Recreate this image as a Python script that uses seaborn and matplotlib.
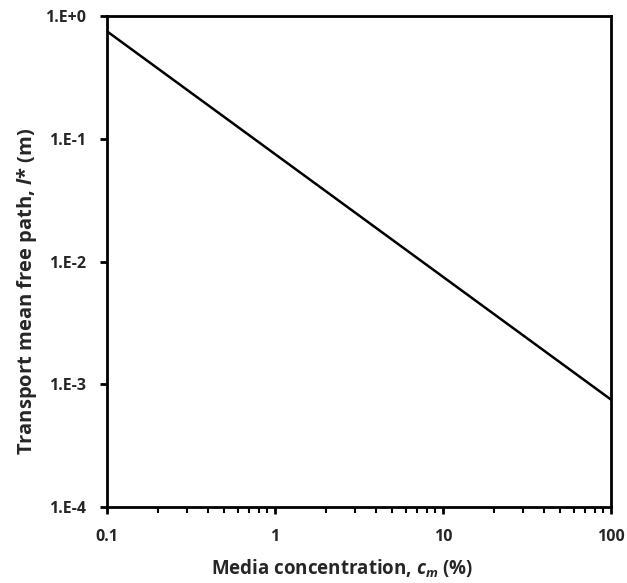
import matplotlib
matplotlib.use("Agg")
import matplotlib.pyplot as plt
import matplotlib.ticker as mticker
import seaborn as sns
import pandas as pd

# Data
concentration = [0.1, 100]          # media concentration c_m (%)
mean_free_path = [0.75, 0.00075]    # transport mean free path l* (m)

x_ticks = [0.1, 1, 10, 100]
x_tick_labels = ["0.1", "1", "10", "100"]
y_ticks = [1e-4, 1e-3, 1e-2, 1e-1, 1e0]
y_tick_labels = ["1.E-4", "1.E-3", "1.E-2", "1.E-1", "1.E+0"]

sns.set_theme(style="white")
plt.rcParams["font.family"] = ["Open Sans", "DejaVu Sans"]
plt.rcParams["font.weight"] = "bold"
plt.rcParams["mathtext.fontset"] = "custom"
plt.rcParams["mathtext.it"] = "Open Sans:italic:bold"
plt.rcParams["mathtext.rm"] = "Open Sans:bold"
plt.rcParams["mathtext.bf"] = "Open Sans:bold"

df = pd.DataFrame({"c": concentration, "l": mean_free_path})

fig = plt.figure(figsize=(6.27, 5.83), dpi=100)
ax = fig.add_axes([107/627, 1-507/583, (611-107)/627, (507-16)/583])

sns.lineplot(data=df, x="c", y="l", ax=ax, color="black", linewidth=1.8)

ax.set_xscale("log")
ax.set_yscale("log")
ax.set_xlim(0.1, 100)
ax.set_ylim(1e-4, 1)

ax.set_xticks(x_ticks)
ax.set_xticklabels(x_tick_labels)
ax.set_yticks(y_ticks)
ax.set_yticklabels(y_tick_labels)
ax.xaxis.set_minor_locator(mticker.LogLocator(base=10, subs=range(2, 10)))
ax.xaxis.set_minor_formatter(mticker.NullFormatter())
ax.yaxis.set_minor_locator(mticker.NullLocator())

for s in ax.spines.values():
    s.set_color("black")
    s.set_linewidth(2.0)

ax.tick_params(axis="both", which="major", direction="out", length=5, width=2.0,
               color="black", labelsize=11.5, bottom=True, left=True)
ax.tick_params(axis="y", which="major", pad=10)
ax.tick_params(axis="x", which="major", pad=11)
ax.tick_params(axis="x", which="minor", direction="out", length=4, width=1.5,
               color="black", bottom=True)
for lab in ax.get_xticklabels() + ax.get_yticklabels():
    lab.set_fontweight("bold")

ax.set_xlabel("Media concentration, $c_m$ (%)", fontsize=13.5, fontweight="bold")
ax.set_ylabel("Transport mean free path, $l$* (m)", fontsize=14.5, fontweight="bold")
ax.xaxis.set_label_coords(0.466, -0.103)
ax.yaxis.set_label_coords(-0.135, 0.440)
ax.grid(False)

fig.savefig("out.png", dpi=100)
